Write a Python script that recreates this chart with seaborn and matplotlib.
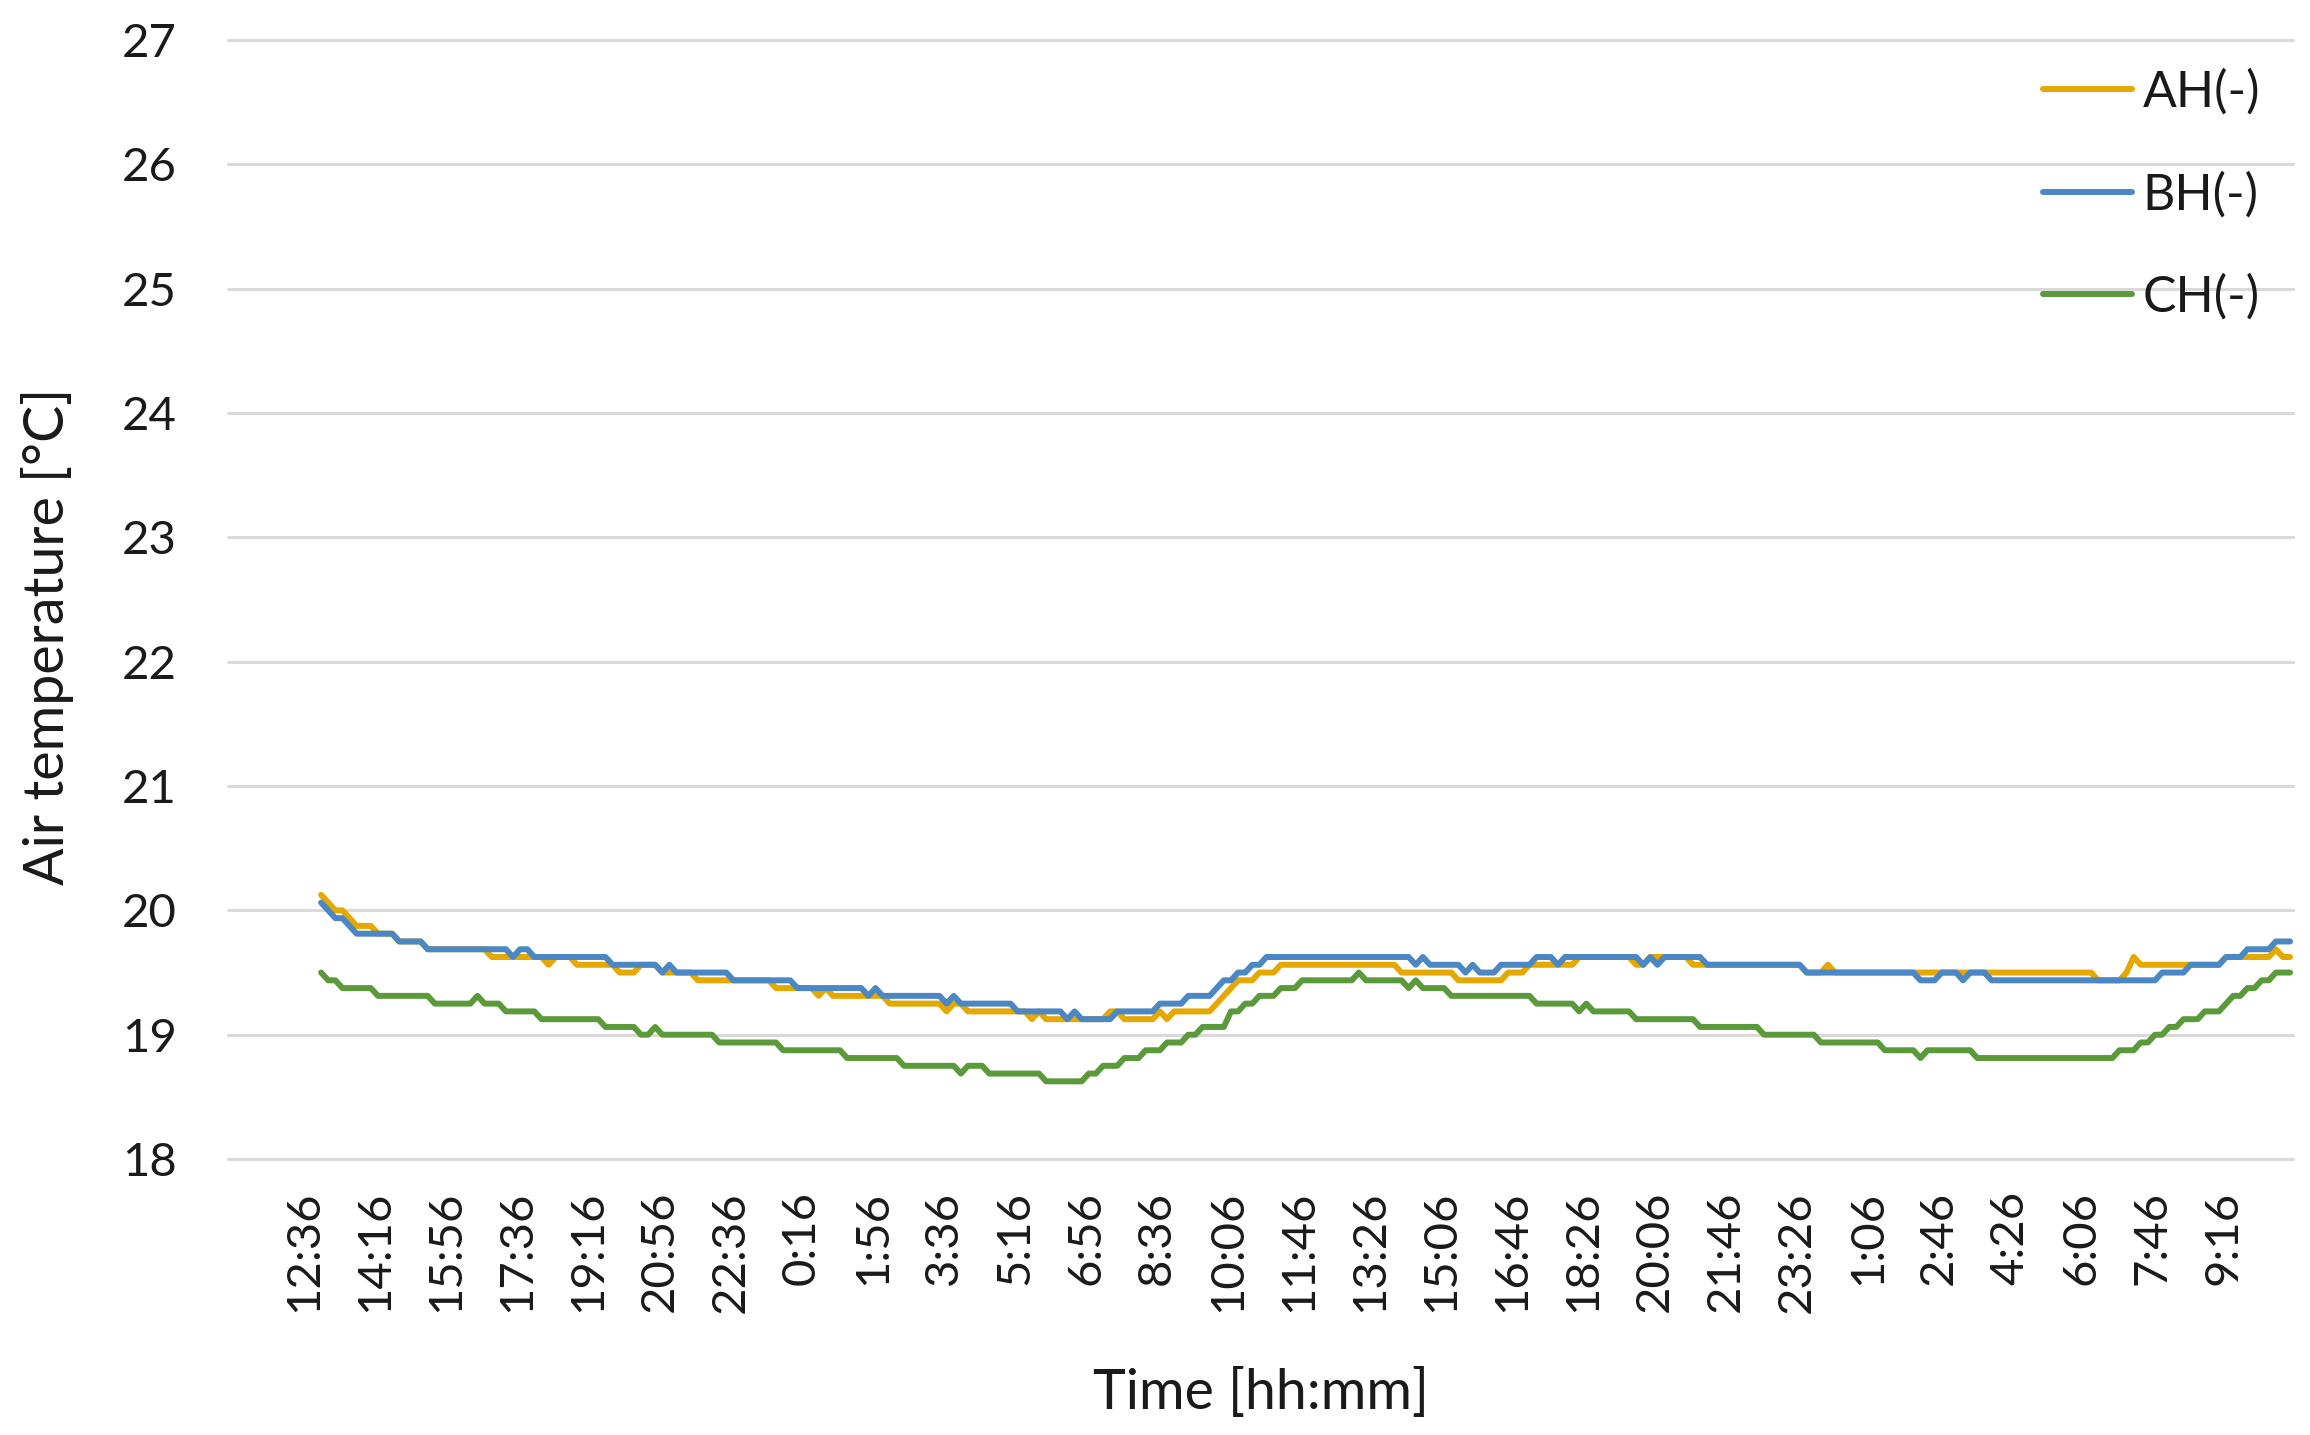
import numpy as np
import pandas as pd
import matplotlib
matplotlib.use("Agg")
import matplotlib.pyplot as plt
import matplotlib.transforms as mtransforms
import seaborn as sns

# x axis: one label every 10 samples (category axis)
tick_labels = ["12:36", "14:16", "15:56", "17:36", "19:16", "20:56", "22:36",
               "0:16", "1:56", "3:36", "5:16", "6:56", "8:36", "10:06",
               "11:46", "13:26", "15:06", "16:46", "18:26", "20:06", "21:46",
               "23:26", "1:06", "2:46", "4:26", "6:06", "7:46", "9:16"]

# readings as (temperature, number of consecutive samples)
ah_runs = [(20.125, 1), (20.0625, 1), (20.0, 2), (19.9375, 1), (19.875, 3),
           (19.8125, 3), (19.75, 4), (19.6875, 9), (19.625, 8), (19.5625, 1),
           (19.625, 3), (19.5625, 6), (19.5, 3), (19.5625, 3), (19.5, 5),
           (19.4375, 11), (19.375, 6), (19.3125, 1), (19.375, 1), (19.3125, 8),
           (19.25, 8), (19.1875, 1), (19.25, 2), (19.1875, 9), (19.125, 1),
           (19.1875, 1), (19.125, 9), (19.1875, 2), (19.125, 5), (19.1875, 1),
           (19.125, 1), (19.1875, 6), (19.25, 1), (19.3125, 1), (19.375, 1),
           (19.4375, 3), (19.5, 3), (19.5625, 17), (19.5, 8), (19.4375, 7),
           (19.5, 3), (19.5625, 7), (19.625, 8), (19.5625, 2), (19.625, 6),
           (19.5625, 16), (19.5, 3), (19.5625, 1), (19.5, 37), (19.4375, 4),
           (19.5, 1), (19.625, 1), (19.5625, 12), (19.625, 7), (19.6875, 1),
           (19.625, 2)]

bh_runs = [(20.0625, 1), (20.0, 1), (19.9375, 2), (19.875, 1), (19.8125, 6),
           (19.75, 4), (19.6875, 12), (19.625, 1), (19.6875, 2), (19.625, 11),
           (19.5625, 7), (19.5, 1), (19.5625, 1), (19.5, 8), (19.4375, 9),
           (19.375, 10), (19.3125, 1), (19.375, 1), (19.3125, 9), (19.25, 1),
           (19.3125, 1), (19.25, 8), (19.1875, 7), (19.125, 1), (19.1875, 1),
           (19.125, 5), (19.1875, 6), (19.25, 4), (19.3125, 4), (19.375, 1),
           (19.4375, 2), (19.5, 2), (19.5625, 2), (19.625, 21), (19.5625, 1),
           (19.625, 1), (19.5625, 5), (19.5, 1), (19.5625, 1), (19.5, 3),
           (19.5625, 5), (19.625, 3), (19.5625, 1), (19.625, 11), (19.5625, 1),
           (19.625, 1), (19.5625, 1), (19.625, 6), (19.5625, 14), (19.5, 16),
           (19.4375, 3), (19.5, 3), (19.4375, 1), (19.5, 3), (19.4375, 24),
           (19.5, 4), (19.5625, 5), (19.625, 3), (19.6875, 4), (19.75, 3)]

ch_runs = [(19.5, 1), (19.4375, 2), (19.375, 5), (19.3125, 8), (19.25, 6),
           (19.3125, 1), (19.25, 3), (19.1875, 5), (19.125, 9), (19.0625, 5),
           (19.0, 2), (19.0625, 1), (19.0, 8), (18.9375, 9), (18.875, 9),
           (18.8125, 8), (18.75, 8), (18.6875, 1), (18.75, 3), (18.6875, 8),
           (18.625, 6), (18.6875, 2), (18.75, 3), (18.8125, 3), (18.875, 3),
           (18.9375, 3), (19.0, 2), (19.0625, 4), (19.1875, 2), (19.25, 2),
           (19.3125, 3), (19.375, 3), (19.4375, 8), (19.5, 1), (19.4375, 6),
           (19.375, 1), (19.4375, 1), (19.375, 4), (19.3125, 12), (19.25, 6),
           (19.1875, 1), (19.25, 1), (19.1875, 6), (19.125, 9), (19.0625, 9),
           (19.0, 8), (18.9375, 9), (18.875, 5), (18.8125, 1), (18.875, 7),
           (18.8125, 20), (18.875, 3), (18.9375, 2), (19.0, 2), (19.0625, 2),
           (19.125, 3), (19.1875, 3), (19.25, 1), (19.3125, 2), (19.375, 2),
           (19.4375, 2), (19.5, 3)]

series = {"AH(-)": ah_runs, "BH(-)": bh_runs, "CH(-)": ch_runs}
colors = {"AH(-)": "#E5A800", "BH(-)": "#4A87C3", "CH(-)": "#5B9A3A"}


def expand(runs):
    vals = [v for v, n in runs]
    counts = [n for v, n in runs]
    return np.repeat(vals, counts)


frames = []
for name, runs in series.items():
    temp = expand(runs)
    frames.append(pd.DataFrame({"sample": np.arange(len(temp)),
                                "temp": temp, "sensor": name}))
df = pd.concat(frames, ignore_index=True)

sns.set_style("white")
plt.rcParams['font.family'] = ['Lato', 'DejaVu Sans']
text_color = "#1a1a1a"

fig = plt.figure(figsize=(23.1, 14.35), dpi=100)
ax = fig.add_axes([0.0987, 0.1923, 0.8939, 0.7798])

sns.lineplot(data=df, x="sample", y="temp", hue="sensor", palette=colors,
             linewidth=4.3, ax=ax, legend=False,
             solid_joinstyle="round", solid_capstyle="round")

ax.set_ylim(18, 27)
ax.set_yticks(range(18, 28))
ax.set_xlim(-13.1, 277.4)
ax.set_xticks(range(0, 10 * len(tick_labels), 10))
ax.set_xticklabels(tick_labels, rotation=90)

ax.yaxis.grid(True, color="#d9d9d9", linewidth=2.2)
for gl in ax.get_ygridlines():
    gl.set_clip_on(False)
ax.set_axisbelow(True)
sns.despine(ax=ax, left=True, bottom=True)

ax.tick_params(axis="both", length=0, labelsize=34, colors=text_color)
ax.tick_params(axis="y", pad=37)
ax.tick_params(axis="x", pad=23)
shift = mtransforms.ScaledTranslation(-0.17, 0, fig.dpi_scale_trans)
for lab in ax.get_xticklabels():
    lab.set_transform(lab.get_transform() + shift)

ax.set_xlabel("Time [hh:mm]", fontsize=40, color=text_color)
ax.set_ylabel("Air temperature [°C]", fontsize=40, color=text_color)
ax.xaxis.set_label_coords(0.5, -0.187)
ax.yaxis.set_label_coords(-0.0745, 0.467)

handles = [plt.Line2D([], [], color=colors[k], linewidth=4.3,
                      solid_capstyle="round") for k in series]
ax.legend(handles, list(series.keys()), loc="upper right",
          bbox_to_anchor=(2260 / 2310, 1 - 69 / 1435),
          bbox_transform=fig.transFigure, frameon=False, fontsize=36,
          handlelength=1.78, handletextpad=0.22, labelspacing=1.12,
          borderpad=0, borderaxespad=0, labelcolor=text_color)

plt.savefig("out.png", dpi=100)
